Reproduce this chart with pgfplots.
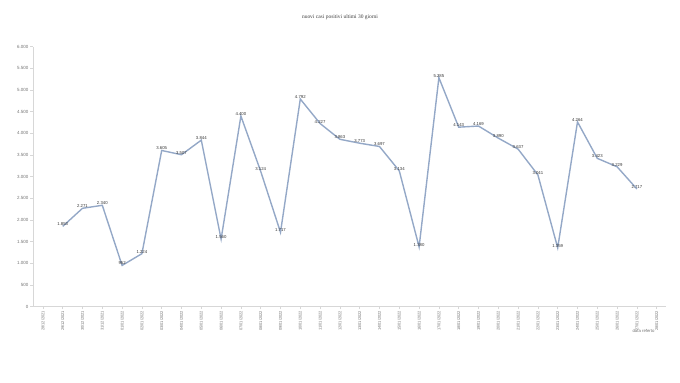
\documentclass[border=0pt]{standalone}
\usepackage{fontspec}
\setmainfont{Liberation Sans}
\newfontfamily\titlefont{Liberation Serif}
\usepackage{pgfplots}
\usepackage{pgfplotstable}
\pgfplotsset{compat=1.18}
\definecolor{linec}{RGB}{148,168,199}
\definecolor{axc}{RGB}{215,215,215}
\definecolor{labc}{RGB}{115,115,115}
\pgfplotstableread{
x y
1 1853
2 2271
3 2340
4 952
5 1224
6 3605
7 3507
8 3844
9 1560
10 4400
11 3124
12 1717
13 4792
14 4227
15 3863
16 3773
17 3697
18 3134
19 1380
20 5285
21 4143
22 4169
23 3890
24 3637
25 3041
26 1359
27 4264
28 3423
29 3229
30 2717
}\datatable
\begin{document}
\begin{tikzpicture}
\path[use as bounding box] (0,0) rectangle (680bp,383bp);
\begin{axis}[
  at={(33bp,76.3bp)}, anchor=south west,
  scale only axis, width=633bp, height=260bp,
  xmin=-0.5, xmax=31.47, ymin=0, ymax=6000,
  clip=false,
  axis x line*=bottom, axis y line*=left,
  axis line style={draw=axc, line width=0.5bp, -},
  tick style={draw=axc, line width=0.4bp},
  major tick length=2.5bp, tick align=outside,
  ytick distance=500,
  scaled y ticks=false,
  /pgf/number format/.cd, 1000 sep={.}, assume math mode=true,
  /pgfplots/.cd,
  xtick={0,...,31},
  xticklabels={28/12/2021,29/12/2021,30/12/2021,31/12/2021,01/01/2022,02/01/2022,03/01/2022,04/01/2022,05/01/2022,06/01/2022,07/01/2022,08/01/2022,09/01/2022,10/01/2022,11/01/2022,12/01/2022,13/01/2022,14/01/2022,15/01/2022,16/01/2022,17/01/2022,18/01/2022,19/01/2022,20/01/2022,21/01/2022,22/01/2022,23/01/2022,24/01/2022,25/01/2022,26/01/2022,27/01/2022,28/01/2022},
  x tick label style={rotate=90, anchor=east, font=\fontsize{4}{4}\selectfont, text=labc, inner sep=1.5bp},
  y tick label style={font=\fontsize{4.5}{5}\selectfont, text=labc, inner sep=2bp},
]
\addplot[color=linec, line width=1.4bp, mark=none,
  nodes near coords,
  every node near coord/.append style={font=\fontsize{4.3}{5}\selectfont, text=black!80, anchor=center, yshift=2bp, inner sep=0pt},
] table[x=x, y=y] {\datatable};
\end{axis}
\node[font=\titlefont\fontsize{5.5}{6}\selectfont, text=black!75] at (340bp,366bp) {nuovi casi positivi ultimi 30 giorni};
\node[font=\fontsize{4.3}{5}\selectfont, text=labc, anchor=east] at (658bp,52bp) {data referto};
\end{tikzpicture}
\end{document}
